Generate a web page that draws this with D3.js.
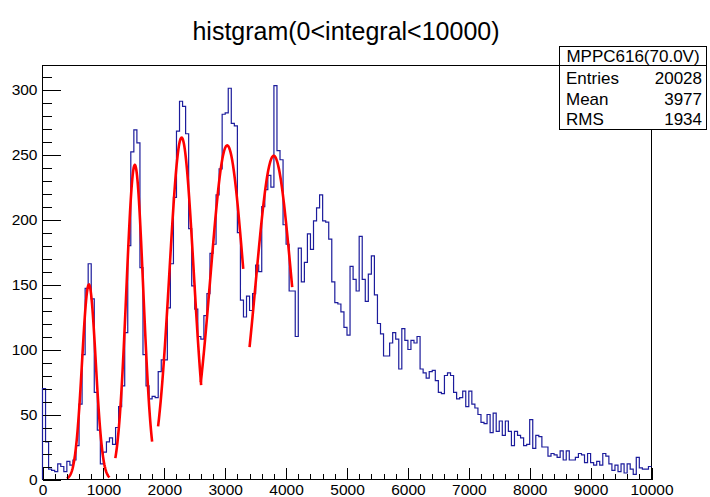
<!DOCTYPE html>
<html>
<head>
<meta charset="utf-8">
<script src="https://d3js.org/d3.v7.min.js"></script>
<style>
  body { margin: 0; background: #fff; }
  text { font-family: "Liberation Sans", Arial, sans-serif; fill: #000; }
</style>
</head>
<body>
<div id="chart"></div>
<script>
// histogram contents, 200 bins of width 50 from 0 to 10000
var counts = [
  70, 29, 8, 7, 6, 12, 10, 6, 14, 11, 15, 26, 58, 96, 147, 166, 139, 67, 38, 12,
  21, 29, 32, 27, 40, 56, 72, 113, 180, 252, 269, 259, 163, 96, 72, 62, 64, 63, 83, 92,
  92, 132, 166, 217, 268, 291, 287, 266, 193, 149, 131, 110, 108, 126, 143, 174, 181, 219, 239, 281,
  282, 301, 274, 272, 190, 138, 125, 141, 130, 143, 165, 160, 210, 223, 234, 225, 303, 253, 246, 196,
  181, 145, 145, 110, 178, 152, 167, 189, 177, 199, 209, 219, 199, 198, 185, 152, 136, 135, 129, 117,
  111, 164, 154, 145, 187, 154, 137, 158, 172, 142, 120, 112, 95, 95, 105, 113, 108, 85, 116, 107,
  100, 107, 105, 110, 85, 82, 78, 83, 84, 76, 67, 66, 80, 82, 80, 67, 62, 63, 68, 56,
  68, 58, 55, 50, 44, 43, 50, 36, 51, 37, 45, 34, 45, 37, 26, 37, 34, 32, 26, 27,
  46, 24, 34, 33, 25, 25, 18, 20, 19, 17, 22, 15, 22, 15, 15, 17, 20, 19, 13, 20,
  13, 11, 14, 11, 20, 18, 12, 7, 11, 6, 12, 5, 12, 8, 4, 17, 9, 8, 8, 10
];
var binWidth = 50;

// gaussian fits: constant, mean, sigma, fit range
var fitConst = [150, 242, 263, 257, 249];
var fitMean  = [762, 1516, 2284, 3032, 3797];
var fitSigma = [112, 138, 200, 275, 297];
var fitLo    = [400, 1196, 1898, 2600, 3400];
var fitHi    = [1100, 1800, 2605, 3296, 4100];

var xTicks = [0, 1000, 2000, 3000, 4000, 5000, 6000, 7000, 8000, 9000, 10000];
var yTicks = [0, 50, 100, 150, 200, 250, 300];

var title = "histgram(0<integral<10000)";
var statsTitle = "MPPC616(70.0V)";
var statsNames = ["Entries", "Mean", "RMS"];
var statsValues = ["20028", "3977", "1934"];

var width = 710, height = 497;
var frameL = 42.5, frameR = 651.5, frameT = 65.5, frameB = 479.5;

var svg = d3.select("#chart").append("svg")
  .attr("width", width)
  .attr("height", height);

var x = d3.scaleLinear().domain([0, 10000]).range([frameL, frameR]);
var y = d3.scaleLinear().domain([0, 318.5]).range([frameB, frameT]);

// frame
svg.append("rect")
  .attr("x", frameL).attr("y", frameT)
  .attr("width", frameR - frameL).attr("height", frameB - frameT)
  .attr("fill", "none").attr("stroke", "#000").attr("stroke-width", 1);

svg.append("defs").append("clipPath").attr("id", "clip")
  .append("rect")
  .attr("x", frameL).attr("y", frameT)
  .attr("width", frameR - frameL).attr("height", frameB - frameT);

// histogram outline
var pts = counts.map(function(c, i) { return [i * binWidth, c]; });
pts.push([counts.length * binWidth, counts[counts.length - 1]]);
pts.unshift([0, 0]);

var histLine = d3.line()
  .x(function(d) { return x(d[0]); })
  .y(function(d) { return y(d[1]); })
  .curve(d3.curveStepAfter);

svg.append("path")
  .datum(pts)
  .attr("d", histLine)
  .attr("fill", "none")
  .attr("stroke", "#1c1c9c")
  .attr("stroke-width", 1.2);

// fit curves
var fitLine = d3.line()
  .x(function(d) { return x(d[0]); })
  .y(function(d) { return y(d[1]); });

fitConst.forEach(function(c, k) {
  var fp = d3.range(0, 101).map(function(j) {
    var xv = fitLo[k] + (fitHi[k] - fitLo[k]) * j / 100;
    var z = (xv - fitMean[k]) / fitSigma[k];
    return [xv, c * Math.exp(-0.5 * z * z)];
  });
  svg.append("path")
    .datum(fp)
    .attr("clip-path", "url(#clip)")
    .attr("d", fitLine)
    .attr("fill", "none")
    .attr("stroke", "#ff0000")
    .attr("stroke-width", 2.6);
});

// axes, ticks drawn inward like ROOT
var xMinor = d3.range(0, 10001, 200).filter(function(v) { return v % 1000 != 0; });
var yMinor = d3.range(0, 319, 10).filter(function(v) { return v % 50 != 0; });

svg.append("g")
  .attr("transform", "translate(0," + frameB + ")")
  .call(d3.axisBottom(x).tickValues(xMinor).tickSize(-6).tickFormat(""))
  .call(function(g) { g.select(".domain").remove(); });

svg.append("g")
  .attr("transform", "translate(0," + frameB + ")")
  .call(d3.axisBottom(x).tickValues(xTicks).tickSize(-12).tickPadding(4).tickFormat(d3.format("d")))
  .call(function(g) {
    g.select(".domain").remove();
    g.selectAll("text").style("font-size", "15.5px").attr("fill", "#000");
  });

svg.append("g")
  .attr("transform", "translate(" + frameL + ",0)")
  .call(d3.axisLeft(y).tickValues(yMinor).tickSize(-9).tickFormat(""))
  .call(function(g) { g.select(".domain").remove(); });

svg.append("g")
  .attr("transform", "translate(" + frameL + ",0)")
  .call(d3.axisLeft(y).tickValues(yTicks).tickSize(-18).tickPadding(5).tickFormat(d3.format("d")))
  .call(function(g) {
    g.select(".domain").remove();
    g.selectAll("text").style("font-size", "15.5px").attr("fill", "#000");
  });

svg.selectAll(".tick line").attr("stroke", "#000").attr("shape-rendering", "crispEdges");

// title
svg.append("text")
  .attr("x", 346).attr("y", 40)
  .attr("text-anchor", "middle")
  .style("font-size", "25px")
  .text(title);

// stats box
var bx = 559.5, by = 46.5, bw = 147, bh = 83;
svg.append("rect")
  .attr("x", bx).attr("y", by).attr("width", bw).attr("height", bh)
  .attr("fill", "#fff").attr("stroke", "#000").attr("stroke-width", 1);
svg.append("line")
  .attr("x1", bx).attr("x2", bx + bw).attr("y1", 65.5).attr("y2", 65.5)
  .attr("stroke", "#000");
svg.append("text")
  .attr("x", bx + bw / 2).attr("y", 62)
  .attr("text-anchor", "middle")
  .style("font-size", "17px")
  .text(statsTitle);

var rowY = [84, 105, 125];
statsNames.forEach(function(n, i) {
  svg.append("text")
    .attr("x", 566).attr("y", rowY[i])
    .style("font-size", "17px")
    .text(n);
  svg.append("text")
    .attr("x", 702).attr("y", rowY[i])
    .attr("text-anchor", "end")
    .style("font-size", "17px")
    .text(statsValues[i]);
});
</script>
</body>
</html>
